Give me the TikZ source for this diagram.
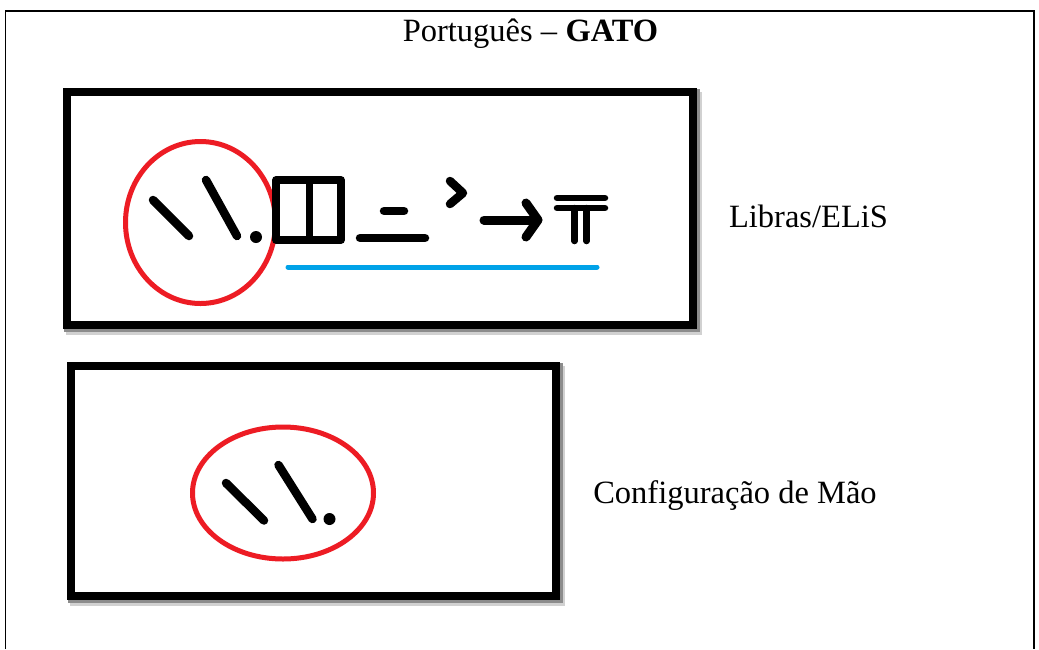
\documentclass[tikz,border=0pt]{standalone}
\usepackage{fontspec}
\setmainfont{Liberation Serif}
\definecolor{ringred}{RGB}{237,28,36}
\definecolor{lineblue}{RGB}{0,162,232}
\begin{document}
\begin{tikzpicture}[x=1pt,y=-1pt,
  frame/.style={line width=1.6pt, draw=black},
  box/.style={line width=8pt, draw=black, fill=white},
  shadowA/.style={line width=10pt, draw=black!45},
  shadowB/.style={line width=10pt, draw=black!18},
  glyph/.style={line width=8.5pt, line cap=round, line join=round, draw=black},
  thin glyph/.style={line width=6.5pt, line cap=round, line join=round, draw=black},
  redring/.style={draw=ringred, line width=5pt},
  blueline/.style={draw=lineblue, line width=5pt, line cap=round},
  lbl/.style={font=\fontsize{32.5}{38}\selectfont, inner sep=0pt}]
\useasboundingbox (0,0) rectangle (1039,649);
% outer frame (open at the bottom)
\draw[frame] (5.5,649) -- (5.5,11) -- (1034,11) -- (1034,649);
\node[lbl, anchor=base] (title) at (530.5,41) {Português – \textbf{GATO}};

% box 1 with shadow
\draw[shadowB] (71,97) rectangle (697,330);
\draw[shadowA] (69,94) rectangle (695,327);
\draw[box] (67,92) rectangle (693,325);
% box 2 with shadow
\draw[shadowB] (75,371) rectangle (560,601);
\draw[shadowA] (73,368) rectangle (558,598);
\draw[box] (71,366) rectangle (556,596);

% box 1 content
\draw[redring] (200.5,222.5) ellipse [x radius=75, y radius=81];
\draw[glyph] (153,200) -- (189,236);
\draw[glyph] (206,180) -- (237,236);
\fill (256,237) circle [radius=6];
\draw[thin glyph, line width=7.5pt] (276,180) rectangle (341,240);
\draw[thin glyph, line width=7pt] (309,180) -- (309,240);
\draw[glyph] (384,211) -- (404,211);
\draw[glyph] (360,238) -- (425,238);
\draw[glyph] (450,181) -- (463,193) -- (450,204);
\draw[glyph, line width=9pt] (484,220) -- (536,220);
\draw[glyph, line width=9pt] (526,203) -- (538,220) -- (526,237);
\draw[thin glyph] (557,198) -- (605,198);
\draw[thin glyph] (557,208) -- (605,208);
\draw[thin glyph] (574.5,208) -- (574.5,241);
\draw[thin glyph] (586.5,208) -- (586.5,241);
\draw[blueline] (288,267) -- (597,267);
\node[lbl, anchor=base] (libras) at (808.5,227) {Libras/ELiS};

% box 2 content
\draw[redring] (283,493) ellipse [x radius=90.5, y radius=66];
\draw[glyph] (226,483) -- (264,520.5);
\draw[glyph] (278.5,465) -- (312.5,519);
\fill (329.5,519) circle [radius=6];
\node[lbl, anchor=base] (config) at (735,503) {Configuração de Mão};
\end{tikzpicture}
\end{document}
